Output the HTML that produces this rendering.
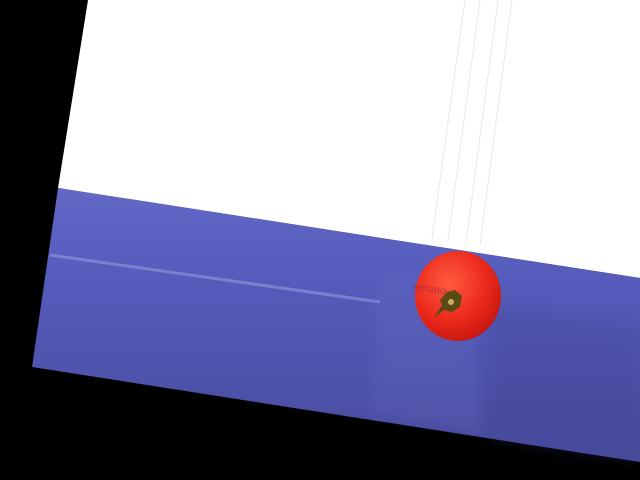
<!DOCTYPE html>
<html><head><meta charset="utf-8"><style>
html,body{margin:0;padding:0;background:#000;width:640px;height:480px;overflow:hidden}
</style></head><body>
<svg width="640" height="480" viewBox="0 0 640 480" xmlns="http://www.w3.org/2000/svg">
<defs>
<linearGradient id="blue" x1="0" y1="0" x2="0" y2="1">
<stop offset="0" stop-color="#6268c6"/>
<stop offset="0.35" stop-color="#555bbb"/>
<stop offset="1" stop-color="#474b9c"/>
</linearGradient>
<radialGradient id="tom" cx="0.4" cy="0.35" r="0.7">
<stop offset="0" stop-color="#ff5a40"/>
<stop offset="0.6" stop-color="#ec2a1c"/>
<stop offset="1" stop-color="#c4160e"/>
</radialGradient>
<filter id="blur"><feGaussianBlur stdDeviation="6"/></filter>
</defs>
<rect width="640" height="480" fill="#000"/>
<polygon points="88,0 640,0 640,278 58,188" fill="#ffffff"/>
<g stroke="#d8d8e0" stroke-width="1" opacity="0.6">
<line x1="465" y1="0" x2="432" y2="238"/>
<line x1="480" y1="0" x2="448" y2="240"/>
<line x1="498" y1="0" x2="466" y2="243"/>
<line x1="512" y1="0" x2="480" y2="245"/>
</g>
<polygon points="58,188 640,278 640,462 32,367" fill="url(#blue)"/>
<line x1="50" y1="255" x2="380" y2="302" stroke="#8a90d8" stroke-width="3" opacity="0.7"/>
<polygon points="380,270 470,282 480,430 370,412" fill="#7078cc" opacity="0.18" filter="url(#blur)"/>
<polygon points="490,305 640,328 640,462 490,440" fill="#3f438f" opacity="0.25" filter="url(#blur)"/>
<ellipse cx="458" cy="296" rx="43" ry="45" fill="url(#tom)"/>
<path d="M440 300 L447 292 L455 290 L462 296 L460 307 L452 312 L444 310 L434 318 L442 305 Z" fill="#5a4a14"/>
<circle cx="451" cy="302" r="3" fill="#c8b060"/>
<text x="412" y="294" font-family="Liberation Sans, sans-serif" font-size="11" fill="#8a2a50" opacity="0.6" transform="rotate(8 440 294)">tomato</text>
</svg>
</body></html>
